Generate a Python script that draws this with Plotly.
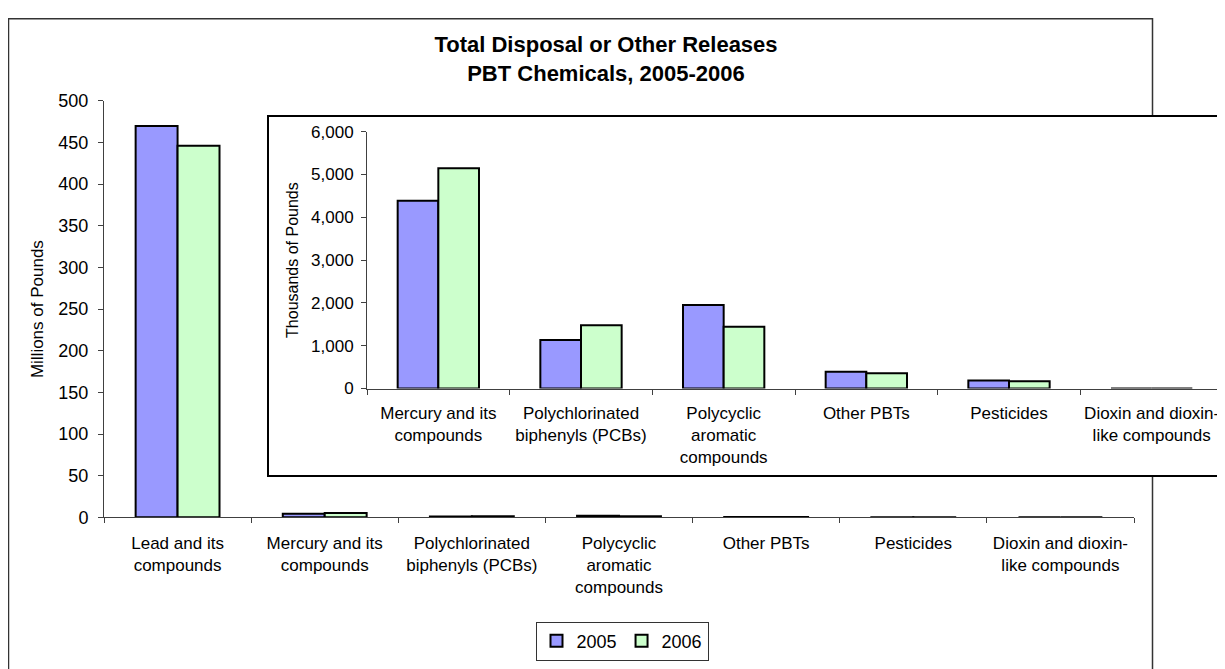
import plotly.graph_objects as go

# ---------------- data ----------------
main_categories = [
    "Lead and its<br>compounds",
    "Mercury and its<br>compounds",
    "Polychlorinated<br>biphenyls (PCBs)",
    "Polycyclic<br>aromatic<br>compounds",
    "Other PBTs",
    "Pesticides",
    "Dioxin and dioxin-<br>like compounds",
]
inset_categories = main_categories[1:]

lead_2005_millions = 470
lead_2006_millions = 446

inset_2005_thousands = [4386, 1131, 1950, 390, 187, 0]
inset_2006_thousands = [5143, 1475, 1443, 358, 171, 0]

main_2005_millions = [lead_2005_millions] + [v / 1000 for v in inset_2005_thousands]
main_2006_millions = [lead_2006_millions] + [v / 1000 for v in inset_2006_thousands]

main_y_ticks = list(range(0, 501, 50))
inset_y_ticks = list(range(0, 6001, 1000))

series_names = ["2005", "2006"]
series_colors = ["#9999FF", "#CCFFCC"]

# ---------------- geometry helpers (screen px -> paper) ----------------
W, H = 1217, 669
X_OFF = 8          # horizontal page offset of the figure
Y_OFF, Y_SCALE = 18.2, 0.969   # observed vertical mapping of the photograph


def px(p):
    return (p - X_OFF) / W


def py(p):
    return 1 - ((p - Y_OFF) / Y_SCALE) / H


FONT = "Liberation Sans, Arial, sans-serif"
AX = "#404040"

fig = go.Figure()

for name, color, vals in zip(series_names, series_colors, [main_2005_millions, main_2006_millions]):
    fig.add_trace(go.Bar(
        x=main_categories, y=vals, name=name, xaxis="x", yaxis="y",
        marker=dict(color=color, line=dict(color="black", width=2)),
        legendgroup=name,
    ))

# frame subplot for the inset (its background hides the main gridlines)
fig.add_trace(go.Scatter(x=[], y=[], xaxis="x2", yaxis="y2", showlegend=False, hoverinfo="skip"))

for name, color, vals in zip(series_names, series_colors, [inset_2005_thousands, inset_2006_thousands]):
    fig.add_trace(go.Bar(
        x=inset_categories, y=vals, name=name, xaxis="x3", yaxis="y3",
        marker=dict(color=color, line=dict(color="black", width=2)),
        legendgroup=name, showlegend=False,
    ))

tickfont = dict(family=FONT, size=17, color="black")

fig.update_layout(
    width=W, height=H,
    margin=dict(l=0, r=0, t=0, b=0),
    paper_bgcolor="white", plot_bgcolor="white",
    font=dict(family=FONT, size=17, color="black"),
    barmode="group", bargap=0.43, bargroupgap=0,
    title=dict(
        text="<b>Total Disposal or Other Releases<br>PBT Chemicals, 2005-2006</b>",
        x=px(606), xanchor="center", y=py(61), yanchor="middle",
        font=dict(family=FONT, size=22, color="black"),
    ),
    showlegend=True,
    legend=dict(
        orientation="h", x=px(622), xanchor="center", y=py(640.5), yanchor="middle",
        bordercolor="#333333", borderwidth=1, bgcolor="white",
        font=dict(family=FONT, size=18, color="black"),
        itemwidth=30, traceorder="normal",
    ),
    xaxis=dict(
        domain=[px(104), px(1134)], anchor="y", type="category",
        tickson="boundaries", ticks="outside", ticklen=5, tickcolor=AX,
        ticklabelstandoff=10,
        showline=True, linecolor=AX, linewidth=1, showgrid=False,
        tickfont=tickfont,
    ),
    yaxis=dict(
        domain=[py(517), py(101)], anchor="x", range=[0, 500],
        tickmode="array", tickvals=main_y_ticks,
        ticks="outside", ticklen=5, tickcolor=AX, ticklabelstandoff=6,
        showline=True, linecolor=AX, linewidth=1, showgrid=False, zeroline=False,
        tickfont=dict(family=FONT, size=18, color="black"),
        title=dict(text="Millions of Pounds", font=dict(family=FONT, size=17, color="black"), standoff=10),
    ),
    yaxis4=dict(
        overlaying="y", anchor="x", range=[0, 500],
        tickmode="array", tickvals=main_y_ticks[1:-1],
        showgrid=True, gridcolor="black", gridwidth=1,
        showticklabels=False, ticks="", showline=False, zeroline=False,
    ),
    xaxis2=dict(
        domain=[px(269), 1], anchor="y2", range=[0, 1],
        showline=True, mirror=True, linecolor="black", linewidth=1.5,
        showticklabels=False, ticks="", showgrid=False, zeroline=False,
    ),
    yaxis2=dict(
        domain=[py(475), py(117)], anchor="x2", range=[0, 1],
        showline=True, mirror=False, linecolor="black", linewidth=1.5,
        showticklabels=False, ticks="", showgrid=False, zeroline=False,
    ),
    xaxis3=dict(
        domain=[px(367), px(1223)], anchor="y3", type="category",
        tickson="boundaries", ticks="outside", ticklen=5, tickcolor=AX,
        ticklabelstandoff=9,
        showline=True, linecolor=AX, linewidth=1, showgrid=False,
        tickfont=tickfont,
    ),
    yaxis3=dict(
        domain=[py(388.3), py(131.7)], anchor="x3", range=[0, 6000],
        tickmode="array", tickvals=inset_y_ticks, tickformat=",",
        ticks="outside", ticklen=5, tickcolor=AX, ticklabelstandoff=4,
        showline=True, linecolor=AX, linewidth=1, showgrid=False, zeroline=False,
        tickfont=dict(family=FONT, size=17, color="black"),
        title=dict(text="Thousands of Pounds", font=dict(family=FONT, size=16, color="black"), standoff=8),
    ),
    yaxis5=dict(
        overlaying="y3", anchor="x3", range=[0, 6000],
        tickmode="array", tickvals=inset_y_ticks[1:-1],
        showgrid=True, gridcolor="black", gridwidth=1,
        showticklabels=False, ticks="", showline=False, zeroline=False,
    ),
    shapes=[dict(
        type="rect", xref="paper", yref="paper",
        x0=px(8.5), x1=px(1152.5), y0=-0.1, y1=1 - 0.8 / H,
        line=dict(color="#333333", width=1.5), fillcolor="rgba(0,0,0,0)", layer="below",
    )],
)

fig.write_html("out.html")
